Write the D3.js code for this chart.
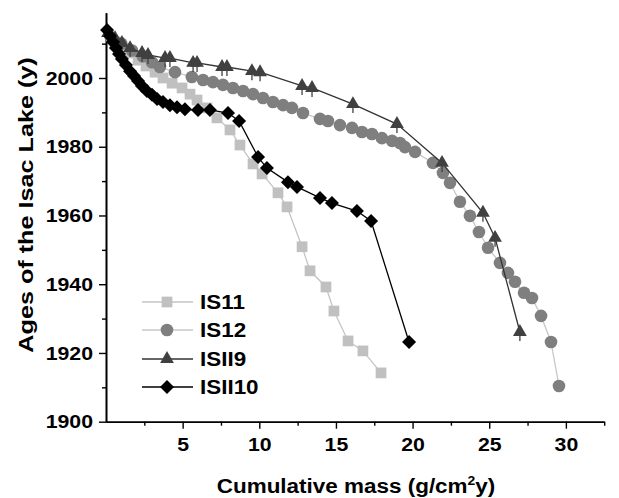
<!DOCTYPE html>
<html>
<head>
<meta charset="utf-8">
<script src="https://cdn.jsdelivr.net/npm/d3@7"></script>
<style>
  body { margin: 0; background: #fff; }
  text { font-family: "Liberation Sans", Arial, sans-serif; font-weight: bold; }
</style>
</head>
<body>
<script>
'use strict';

// data: [cumulative mass, year]
const seriesNames = ["IS11", "IS12", "ISII9", "ISII10"];

const is11 = [
  [0.59, 2010.5], [1.04, 2009.0], [1.57, 2007.3], [2.09, 2005.2], [2.61, 2003.5],
  [3.2, 2001.7], [3.72, 2000.0], [4.31, 1998.5], [4.96, 1997.1], [5.48, 1995.3],
  [5.94, 1993.6], [6.59, 1991.3], [7.24, 1988.4], [8.09, 1984.9], [8.74, 1980.5],
  [9.59, 1975.0], [10.18, 1972.1], [11.22, 1966.6], [11.81, 1962.5], [12.79, 1950.9],
  [13.31, 1943.9], [14.35, 1939.2], [14.87, 1932.2], [15.79, 1923.5], [16.76, 1920.6],
  [17.94, 1914.2]
];

const is12 = [
  [0.3, 2012.0], [1.0, 2010.0], [1.7, 2008.0], [2.4, 2006.3], [3.0, 2004.6],
  [3.52, 2003.2], [4.5, 2001.7], [5.6, 2000.3], [6.33, 1999.4], [6.98, 1998.8],
  [7.63, 1998.0], [8.28, 1997.1], [8.94, 1996.2], [9.59, 1995.3], [10.24, 1994.2],
  [10.89, 1993.0], [11.55, 1992.1], [12.13, 1991.3], [12.85, 1989.8], [13.96, 1988.1],
  [14.48, 1987.5], [15.26, 1986.3], [16.05, 1985.5], [16.7, 1984.3], [17.35, 1983.7],
  [18.0, 1982.5], [18.66, 1981.7], [19.18, 1981.1], [19.5, 1979.9], [20.16, 1978.5],
  [21.33, 1975.3], [21.98, 1972.4], [22.44, 1969.5], [23.09, 1964.0], [23.74, 1959.9],
  [24.33, 1955.2], [24.92, 1950.6], [25.7, 1946.2], [26.22, 1943.3], [26.68, 1940.7],
  [27.27, 1937.5], [27.79, 1936.0], [28.38, 1930.8], [29.03, 1923.2], [29.55, 1910.4]
];

const isii9 = [
  [0.13, 2013.1], [0.59, 2011.6], [1.04, 2010.2], [1.57, 2008.7], [2.35, 2007.3],
  [2.74, 2006.7], [3.85, 2005.8], [4.17, 2005.8], [5.68, 2004.4], [5.94, 2004.4],
  [7.57, 2003.2], [7.89, 2003.2], [9.52, 2002.0], [10.05, 2001.7], [12.79, 1997.7],
  [13.44, 1997.1], [16.11, 1992.4], [18.98, 1986.6], [21.92, 1975.3], [24.59, 1960.8],
  [25.38, 1953.5], [27.0, 1926.1]
];

const isii10 = [
  [0.07, 2014.0], [0.26, 2012.2], [0.46, 2010.5], [0.65, 2008.7], [0.85, 2007.0],
  [1.04, 2005.5], [1.3, 2003.8], [1.57, 2002.0], [1.83, 2000.6], [2.09, 1999.1],
  [2.35, 1997.7], [2.67, 1996.2], [3.0, 1995.1], [3.33, 1993.9], [3.72, 1993.0],
  [4.17, 1992.1], [4.63, 1991.5], [5.15, 1990.9], [6.0, 1990.7], [6.78, 1990.7],
  [7.96, 1989.8], [8.68, 1987.5], [9.92, 1977.0], [10.5, 1973.8], [11.87, 1969.7],
  [12.46, 1968.3], [13.96, 1965.1], [14.74, 1963.6], [16.37, 1961.3], [17.29, 1958.4],
  [19.77, 1923.2]
];

const xTicks = [5, 10, 15, 20, 25, 30];
const xMinor = [2.5, 7.5, 12.5, 17.5, 22.5, 27.5, 32.5];
const yTicks = [1900, 1920, 1940, 1960, 1980, 2000];
const yMinor = [1910, 1930, 1950, 1970, 1990, 2010];

(function() {
  const width = 619, height = 498;
  const svg = d3.select('body').append('svg')
    .attr('width', width)
    .attr('height', height);

  const xScale = d3.scaleLinear().domain([0, 32.5]).range([106, 604.2]);
  const yScale = d3.scaleLinear().domain([1900, 2019]).range([421.7, 12.7]);

  // text in the picture is a bit wider than the font, so stretch it
  const stretch = 1.12;

  // axes
  svg.append('g').attr('transform', 'translate(0,421.7)')
    .call(d3.axisBottom(xScale).tickValues(xTicks).tickSize(7).tickPadding(9).tickSizeOuter(0));
  svg.append('g').attr('transform', 'translate(0,421.7)')
    .call(d3.axisBottom(xScale).tickValues(xMinor).tickSize(4).tickFormat('').tickSizeOuter(0));

  const yAxis = svg.append('g').attr('transform', 'translate(106,0)');
  yAxis.call(d3.axisLeft(yScale).tickValues(yTicks).tickSize(7).tickPadding(6)
    .tickFormat(d3.format('d')).tickSizeOuter(0));
  svg.append('g').attr('transform', 'translate(106,0)')
    .call(d3.axisLeft(yScale).tickValues(yMinor).tickSize(4).tickFormat('').tickSizeOuter(0));

  svg.selectAll('.domain').attr('stroke', '#000').attr('stroke-width', 1.6);
  svg.selectAll('.tick line').attr('stroke', '#000').attr('stroke-width', 1.4);
  svg.selectAll('.tick text')
    .attr('fill', '#000')
    .attr('transform', 'scale(' + stretch + ',1)')
    .style('font-size', '19px')
    .style('font-family', '"Liberation Sans", Arial, sans-serif')
    .style('font-weight', 'bold');
  yAxis.selectAll('.tick text').attr('x', -13 / stretch);

  // axis titles
  const xt = svg.append('text')
    .attr('transform', 'translate(356,493) scale(1.07,1)')
    .attr('text-anchor', 'middle')
    .style('font-size', '21px');
  xt.append('tspan').text('Cumulative mass (g/cm');
  xt.append('tspan').text('2').attr('dy', -8).style('font-size', '13px');
  xt.append('tspan').text('y)').attr('dy', 8);

  svg.append('text')
    .attr('transform', 'translate(33,205) rotate(-90) scale(1.2,1)')
    .attr('text-anchor', 'middle')
    .style('font-size', '21px')
    .text('Ages of the Isac Lake (y)');

  const line = d3.line().x(d => xScale(d[0])).y(d => yScale(d[1]));

  const styles = [
    { data: is11, line: '#c4c4c4', fill: '#c0c0c0', sym: d3.symbolSquare, size: 115, rot: 0 },
    { data: is12, line: '#c8c8c8', fill: '#7f7f7f', sym: d3.symbolCircle, size: 125, rot: 0 },
    { data: isii9, line: '#333333', fill: '#404040', sym: d3.symbolTriangle, size: 82, rot: 0 },
    { data: isii10, line: '#000000', fill: '#000000', sym: d3.symbolSquare, size: 98, rot: 45 }
  ];

  styles.forEach((s, i) => {
    const g = svg.append('g');
    g.append('path')
      .attr('d', line(s.data))
      .attr('fill', 'none')
      .attr('stroke', s.line)
      .attr('stroke-width', 1.3);
    if (i === 2) {
      // small error stems under the triangles
      g.selectAll('.stem').data(s.data).enter().append('line')
        .attr('x1', d => xScale(d[0])).attr('x2', d => xScale(d[0]))
        .attr('y1', d => yScale(d[1]) - 6).attr('y2', d => yScale(d[1]) + 9)
        .attr('stroke', s.fill).attr('stroke-width', 1.3);
    }
    g.selectAll('.pt').data(s.data).enter().append('path')
      .attr('d', d3.symbol().type(s.sym).size(s.size))
      .attr('transform', d => 'translate(' + xScale(d[0]) + ',' + yScale(d[1]) + ') rotate(' + s.rot + ')')
      .attr('fill', s.fill);
  });

  // legend
  const legY = [302, 330, 359, 387];
  styles.forEach((s, i) => {
    const g = svg.append('g').attr('transform', 'translate(0,' + legY[i] + ')');
    g.append('line').attr('x1', 142).attr('x2', 193).attr('y1', 0).attr('y2', 0)
      .attr('stroke', s.line).attr('stroke-width', 1.3);
    g.append('path')
      .attr('d', d3.symbol().type(s.sym).size(s.size))
      .attr('transform', 'translate(167,0) rotate(' + s.rot + ')')
      .attr('fill', s.fill);
    g.append('text')
      .attr('transform', 'translate(200,7) scale(1.15,1)')
      .style('font-size', '19.5px')
      .text(seriesNames[i]);
  });
})();
</script>
</body>
</html>
